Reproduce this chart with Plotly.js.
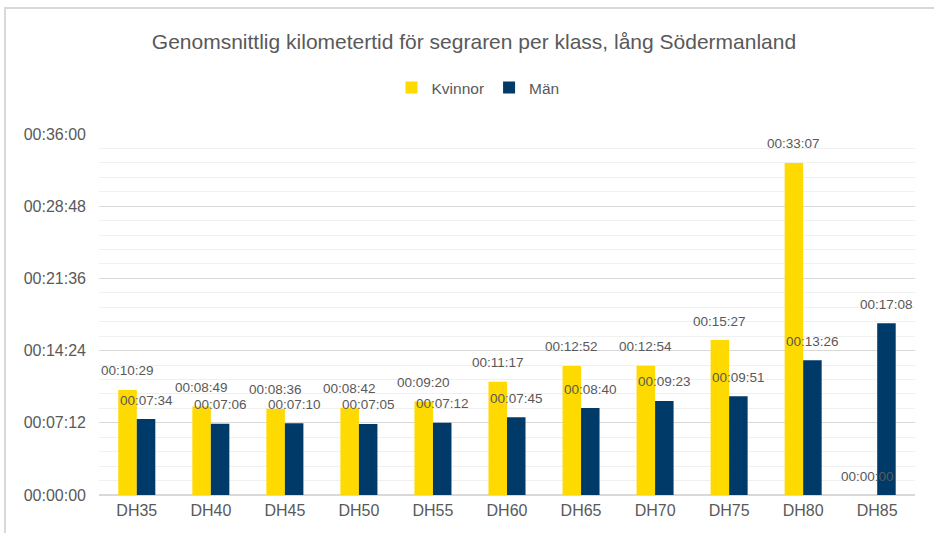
<!DOCTYPE html>
<html>
<head>
<meta charset="utf-8">
<script src="https://cdn.plot.ly/plotly-3.0.1.min.js"></script>
<style>
  html, body { margin: 0; padding: 0; background: #ffffff; }
  #frame { position: absolute; left: 4px; top: 7px; width: 940px; height: 540px;
           border-left: 2px solid #d9d9d9; border-top: 2px solid #d9d9d9; }
  #chart { position: absolute; left: 0; top: 0; width: 934px; height: 533px; }
</style>
</head>
<body>
<div id="frame"></div>
<div id="chart"></div>
<script>
// Data
const categories = ["DH35", "DH40", "DH45", "DH50", "DH55", "DH60", "DH65", "DH70", "DH75", "DH80", "DH85"];
const kvinnor = ["00:10:29", "00:08:49", "00:08:36", "00:08:42", "00:09:20", "00:11:17", "00:12:52", "00:12:54", "00:15:27", "00:33:07", "00:00:00"];
const man = ["00:07:34", "00:07:06", "00:07:10", "00:07:05", "00:07:12", "00:07:45", "00:08:40", "00:09:23", "00:09:51", "00:13:26", "00:17:08"];
const tickLabels = ["00:00:00", "00:07:12", "00:14:24", "00:21:36", "00:28:48", "00:36:00"];

function toSec(s) { const p = s.split(":").map(Number); return p[0] * 3600 + p[1] * 60 + p[2]; }
const kvSec = kvinnor.map(toSec);
const manSec = man.map(toSec);
const tickVals = tickLabels.map(toSec);

const textColor = "#595959";
const font = "Liberation Sans, Arial, sans-serif";

const traces = [
  { type: "bar", name: "Kvinnor", x: categories, y: kvSec, marker: { color: "#FFDA00" }, hoverinfo: "none" },
  { type: "bar", name: "Män", x: categories, y: manSec, marker: { color: "#003A68" }, hoverinfo: "none" }
];

const annotations = [];
categories.forEach((c, i) => {
  annotations.push({ x: c, y: kvSec[i], xref: "x", yref: "y", text: kvinnor[i], showarrow: false,
    xshift: -9.3, yshift: 19, yanchor: "middle", font: { family: font, size: 13.5, color: textColor } });
  annotations.push({ x: c, y: manSec[i], xref: "x", yref: "y", text: man[i], showarrow: false,
    xshift: 9.3, yshift: 19, yanchor: "middle", font: { family: font, size: 13.5, color: textColor } });
});

const layout = {
  width: 934, height: 533,
  paper_bgcolor: "rgba(0,0,0,0)", plot_bgcolor: "rgba(0,0,0,0)",
  margin: { l: 99, r: 19, t: 134, b: 38 },
  font: { family: font, color: textColor },
  title: { text: "Genomsnittlig kilometertid för segraren per klass, lång Södermanland",
           x: 474 / 934, xref: "container", xanchor: "center", y: 1 - 42 / 533, yref: "container", yanchor: "middle",
           font: { family: font, size: 21, color: textColor } },
  showlegend: true,
  legend: { orientation: "h", x: 478 / 934, xref: "container", xanchor: "center",
            y: 1 - 88 / 533, yref: "container", yanchor: "middle",
            font: { family: font, size: 15.5, color: textColor }, itemwidth: 30, traceorder: "normal" },
  barmode: "group", bargap: 0.5, bargroupgap: 0,
  xaxis: { type: "category", showgrid: false, showline: false, ticks: "", zeroline: false,
           tickfont: { family: font, size: 16, color: textColor }, ticklabelstandoff: 4 },
  yaxis: { range: [0, 2160], tickmode: "array", tickvals: tickVals, ticktext: tickLabels,
           showgrid: true, gridcolor: "#d9d9d9", gridwidth: 1.3, zeroline: true, zerolinecolor: "#d9d9d9", zerolinewidth: 1.5,
           showline: false, ticks: "", tickfont: { family: font, size: 16, color: textColor },
           ticklabelstandoff: 12,
           minor: { tickmode: "linear", tick0: 0, dtick: 86.4, showgrid: true, gridcolor: "#f0f0f0", gridwidth: 1, ticks: "" } },
  annotations: annotations
};

Plotly.newPlot("chart", traces, layout, { displayModeBar: false, staticPlot: true });
</script>
</body>
</html>
